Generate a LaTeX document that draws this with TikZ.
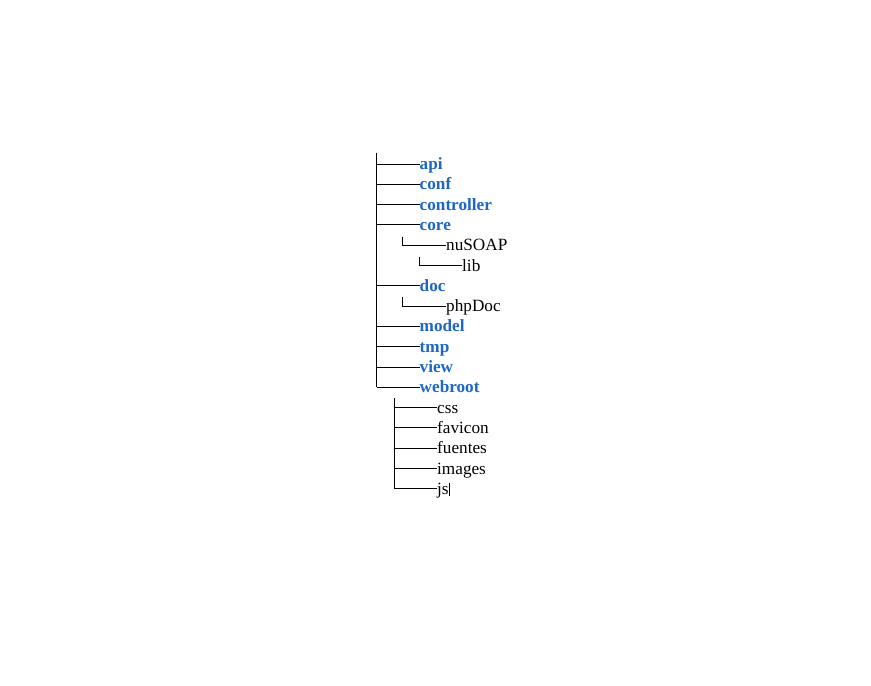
\documentclass[tikz,border=0pt]{standalone}
\usepackage{fontspec}
\setmainfont{Liberation Serif}
\definecolor{dirblue}{RGB}{30,104,196}
\begin{document}
\begin{tikzpicture}[x=1pt,y=-1pt,
  tree/.style={draw=black,line width=1pt},
  topdir/.style={anchor=base west,inner sep=0pt,font=\fontsize{17.2}{20}\selectfont\bfseries,text=dirblue},
  subdir/.style={anchor=base west,inner sep=0pt,font=\fontsize{17.2}{20}\selectfont,text=black}]
\useasboundingbox[fill=white] (0,0) rectangle (871,686);
% trunk
\coordinate (trunktop) at (376.5,153);
\coordinate (subtop) at (394.5,398);
% top-level directories
\foreach \n/\r in {api/0,conf/1,controller/2,core/3,doc/6,model/8,tmp/9,view/10,webroot/11}{
  \node[topdir] (\n) at (419.5,{169.5+20.3*\r}) {\n};
  \coordinate (\n-l) at ([yshift=5.5pt]\n.base west);
  \draw[tree] (trunktop |- \n-l) -- (\n-l);
}
\draw[tree] (trunktop) -- (trunktop |- webroot-l);
% core subtree
\node[subdir] (nusoap) at (446,{169.5+20.3*4}) {nuSOAP};
\coordinate (nusoap-l) at ([yshift=5.5pt]nusoap.base west);
\coordinate (nusoap-c) at (402.5,236.5);
\draw[tree] (nusoap-c) -- (nusoap-c |- nusoap-l) -- (nusoap-l);
\node[subdir] (lib) at (462,{169.5+20.3*5}) {lib};
\coordinate (lib-l) at ([yshift=5.5pt]lib.base west);
\coordinate (lib-c) at (419.5,256.8);
\draw[tree] (lib-c) -- (lib-c |- lib-l) -- (lib-l);
% doc subtree
\node[subdir] (phpdoc) at (446,{169.5+20.3*7}) {phpDoc};
\coordinate (phpdoc-l) at ([yshift=5.5pt]phpdoc.base west);
\coordinate (phpdoc-c) at (402.5,297);
\draw[tree] (phpdoc-c) -- (phpdoc-c |- phpdoc-l) -- (phpdoc-l);
% webroot subtree
\foreach \n/\r in {css/12,favicon/13,fuentes/14,images/15,js/16}{
  \node[subdir] (\n) at (437,{169.5+20.3*\r}) {\n};
  \coordinate (\n-l) at ([yshift=5.5pt]\n.base west);
  \draw[tree] (subtop |- \n-l) -- (\n-l);
}
\draw[tree] (subtop) -- (subtop |- js-l);
% text cursor
\coordinate (cur-a) at ([xshift=1pt]js.east |- 0,482.5);
\coordinate (cur-b) at ([xshift=1pt]js.east |- 0,495.5);
\draw[line width=1pt] (cur-a) -- (cur-b);
\end{tikzpicture}
\end{document}
